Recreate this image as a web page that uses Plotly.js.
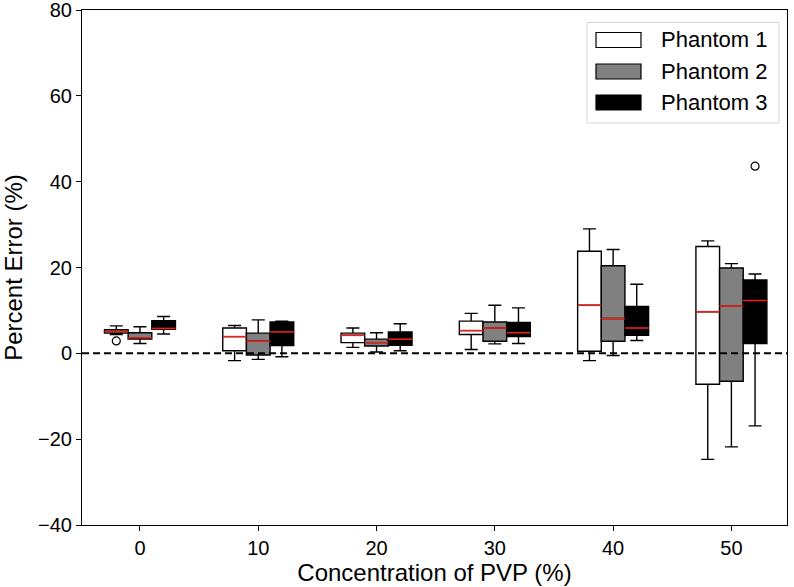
<!DOCTYPE html>
<html>
<head>
<meta charset="utf-8">
<script src="https://cdn.plot.ly/plotly-3.0.1.min.js"></script>
<style>
  html, body { margin: 0; padding: 0; background: #fff; }
  #chart { width: 794px; height: 587px; }
</style>
</head>
<body>
<div id="chart"></div>
<script>
// PVP concentrations (%)
const concentrations = [0, 10, 20, 30, 40, 50];
const phantomNames = ['Phantom 1', 'Phantom 2', 'Phantom 3'];
const yTickVals = [-40, -20, 0, 20, 40, 60, 80];
const xRange = [-4.9, 54.7];
const yRange = [-40, 80];

// Box statistics of percent error (%) per concentration
const p1Low    = [4.4, -1.7, 1.4, 0.9, -1.7, -24.7];
const p1Q1     = [4.7,  0.6, 2.5, 4.4,  0.5,  -7.2];
const p1Median = [5.1,  3.9, 4.2, 5.3, 11.2,   9.7];
const p1Q3     = [5.5,  5.9, 4.7, 7.5, 23.8,  24.9];
const p1High   = [6.4,  6.5, 5.9, 9.3, 29.0,  26.2];

const p2Low    = [2.3, -1.4, 0.3,  2.2, -0.5, -21.8];
const p2Q1     = [3.3, -0.4, 1.7,  2.8,  2.8,  -6.5];
const p2Median = [3.6,  2.8, 2.5,  5.9,  8.1,  11.0];
const p2Q3     = [4.8,  4.7, 3.3,  7.3, 20.4,  19.9];
const p2High   = [6.2,  7.8, 4.8, 11.2, 24.2,  20.9];

const p3Low    = [4.5, -0.8, 0.6,  2.3,  3.0, -16.9];
const p3Q1     = [5.6,  1.8, 1.9,  3.9,  4.2,   2.3];
const p3Median = [5.8,  5.0, 3.3,  4.8,  5.9,  12.3];
const p3Q3     = [7.6,  7.3, 5.0,  7.2, 10.9,  17.1];
const p3High   = [8.6,  7.5, 6.9, 10.6, 16.1,  18.5];

// Outliers: [concentration, value]
const p1Outliers = [[0, 2.9]];
const p2Outliers = [];
const p3Outliers = [[50, 43.6]];

const stats = [
  {low: p1Low, q1: p1Q1, med: p1Median, q3: p1Q3, high: p1High, out: p1Outliers, fill: '#ffffff'},
  {low: p2Low, q1: p2Q1, med: p2Median, q3: p2Q3, high: p2High, out: p2Outliers, fill: '#808080'},
  {low: p3Low, q1: p3Q1, med: p3Median, q3: p3Q3, high: p3High, out: p3Outliers, fill: '#000000'}
];

const boxWidth = 2;
const offsets = [-2, 0, 2];
const fontFamily = 'Arial, "Liberation Sans", sans-serif';

const traces = [];

// dashed reference line at zero error
traces.push({
  type: 'scatter', mode: 'lines', x: xRange, y: [0, 0],
  line: {color: '#000000', width: 2, dash: '7px,4px'},
  hoverinfo: 'skip', showlegend: false
});

stats.forEach((s, i) => {
  const xs = concentrations.map(c => c + offsets[i]);
  traces.push({
    type: 'box',
    name: phantomNames[i],
    x: xs,
    q1: s.q1, median: s.med, q3: s.q3,
    lowerfence: s.low, upperfence: s.high,
    width: boxWidth,
    whiskerwidth: 0.55,
    fillcolor: s.fill,
    line: {color: '#000000', width: 1.4},
    boxpoints: false,
    hoverinfo: 'skip',
    showlegend: false
  });
});

// red median lines
stats.forEach((s, i) => {
  const mx = [], my = [];
  concentrations.forEach((c, k) => {
    const x0 = c + offsets[i] - boxWidth / 2, x1 = c + offsets[i] + boxWidth / 2;
    mx.push(x0, x1, null);
    my.push(s.med[k], s.med[k], null);
  });
  traces.push({
    type: 'scatter', mode: 'lines', x: mx, y: my,
    line: {color: '#e8201a', width: 1.6},
    hoverinfo: 'skip', showlegend: false
  });
});

// outlier markers
stats.forEach((s, i) => {
  if (!s.out.length) return;
  traces.push({
    type: 'scatter', mode: 'markers',
    x: s.out.map(o => o[0] + offsets[i]),
    y: s.out.map(o => o[1]),
    marker: {symbol: 'circle-open', size: 8, color: '#000000', line: {width: 1.2, color: '#000000'}},
    hoverinfo: 'skip', showlegend: false
  });
});

// plot area in pixels, used for the legend block
const W = 794, H = 587;
const M = {l: 82, r: 7, t: 10, b: 62};
const pw = W - M.l - M.r, ph = H - M.t - M.b;
const px = x => (x - M.l) / pw;
const py = y => (H - M.b - y) / ph;

const shapes = [
  {type: 'rect', xref: 'paper', yref: 'paper', x0: px(587), x1: px(779), y0: py(123), y1: py(22.5),
   line: {color: '#d4d4d4', width: 1}, fillcolor: 'rgba(255,255,255,0.85)'}
];
const annotations = [];
const rowY = [40, 71.5, 102.5];
stats.forEach((s, i) => {
  shapes.push({type: 'rect', xref: 'paper', yref: 'paper',
    x0: px(596), x1: px(641), y0: py(rowY[i] + 7.5), y1: py(rowY[i] - 7.5),
    line: {color: '#000000', width: 1.2}, fillcolor: s.fill});
  annotations.push({xref: 'paper', yref: 'paper', x: px(659), y: py(rowY[i]),
    xanchor: 'left', yanchor: 'middle', showarrow: false, text: phantomNames[i],
    font: {family: fontFamily, size: 22, color: '#000000'}});
});

const layout = {
  width: W, height: H,
  margin: M,
  paper_bgcolor: '#ffffff', plot_bgcolor: '#ffffff',
  font: {family: fontFamily, color: '#000000'},
  showlegend: false,
  xaxis: {
    range: xRange,
    tickmode: 'array', tickvals: concentrations,
    ticks: 'outside', ticklen: 5, tickwidth: 1, tickcolor: '#000',
    showline: true, linecolor: '#000', linewidth: 1, mirror: true,
    showgrid: false, zeroline: false,
    ticklabeloverflow: 'allow',
    tickfont: {size: 20},
    title: {text: 'Concentration of PVP (%)', font: {size: 24}, standoff: 1}
  },
  yaxis: {
    range: yRange,
    tickmode: 'array', tickvals: yTickVals,
    ticks: 'outside', ticklen: 5, tickwidth: 1, tickcolor: '#000',
    showline: true, linecolor: '#000', linewidth: 1, mirror: true,
    showgrid: false, zeroline: false,
    ticklabeloverflow: 'allow',
    tickfont: {size: 20},
    title: {text: 'Percent Error (%)', font: {size: 24}, standoff: 8}
  },
  shapes: shapes,
  annotations: annotations
};

Plotly.newPlot('chart', traces, layout, {displayModeBar: false});
</script>
</body>
</html>
